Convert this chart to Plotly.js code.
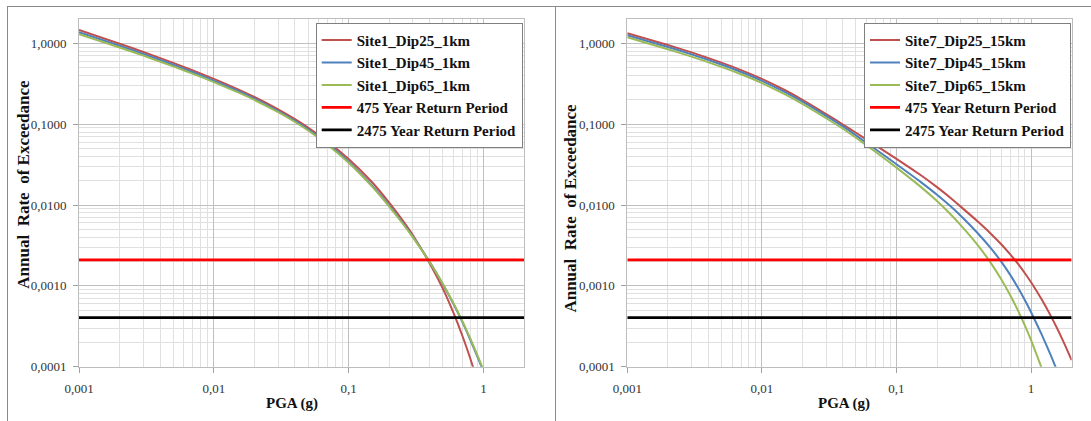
<!DOCTYPE html>
<html>
<head>
<meta charset="utf-8">
<script src="https://cdn.plot.ly/plotly-3.0.1.min.js"></script>
<style>
  html, body { margin: 0; padding: 0; background: #ffffff; }
  #chart { width: 1091px; height: 421px; }
</style>
</head>
<body>
<div id="chart"></div>
<script>
// ---------- data ----------
const pgaSite1 = [0.001, 0.002, 0.003, 0.005, 0.007, 0.01, 0.015, 0.02, 0.03, 0.04, 0.05, 0.07, 0.1, 0.15, 0.2, 0.25, 0.3, 0.4, 0.5, 0.6, 0.7, 0.8, 0.9, 1.0, 1.1];
const site1Dip25 = [1.46, 0.989, 0.782, 0.573, 0.462, 0.3636, 0.2716, 0.217, 0.1526, 0.1153, 0.0908, 0.0607, 0.0371, 0.019, 0.01068, 0.00654, 0.00422, 0.00189, 0.000923, 0.000462, 0.000238, 0.0001255, 0.000068, 0.00004, 0.0000234];
const site1Dip45 = [1.371, 0.933, 0.74, 0.543, 0.4385, 0.346, 0.2588, 0.207, 0.1455, 0.1099, 0.0863, 0.0571, 0.0344, 0.01722, 0.0098, 0.00611, 0.00404, 0.00197, 0.00105, 0.000597, 0.000353, 0.000214, 0.000134, 0.0000875, 0.0000562];
const site1Dip65 = [1.30, 0.888, 0.705, 0.519, 0.4197, 0.3317, 0.2487, 0.1993, 0.1406, 0.1064, 0.0836, 0.0554, 0.0334, 0.01678, 0.00957, 0.00599, 0.00398, 0.00196, 0.001064, 0.00061, 0.000364, 0.000222, 0.00014, 0.0000909, 0.0000592];

const pgaSite7 = [0.001, 0.002, 0.003, 0.005, 0.007, 0.01, 0.015, 0.02, 0.03, 0.04, 0.05, 0.07, 0.1, 0.15, 0.2, 0.25, 0.3, 0.4, 0.5, 0.6, 0.7, 0.8, 0.9, 1.0, 1.2, 1.4, 1.6, 1.8, 2.0];
const site7Dip25 = [1.33, 0.954, 0.7726, 0.5773, 0.4671, 0.3638, 0.261, 0.2001, 0.1335, 0.099, 0.0783, 0.0548, 0.0373, 0.02368, 0.01667, 0.01239, 0.00955, 0.00629, 0.00445, 0.00327, 0.00245, 0.001866, 0.001432, 0.001106, 0.000676, 0.0004255, 0.000274, 0.00018, 0.0001207];
const site7Dip45 = [1.26, 0.903, 0.731, 0.5463, 0.4418, 0.3441, 0.247, 0.1895, 0.1264, 0.0937, 0.0726, 0.049, 0.0319, 0.01947, 0.01339, 0.00976, 0.00736, 0.00451, 0.00295, 0.001995, 0.001368, 0.000947, 0.000665, 0.000472, 0.000249, 0.0001388, 0.0000803, 0.0000478, 0.0000282];
const site7Dip65 = [1.19, 0.846, 0.685, 0.512, 0.4143, 0.3227, 0.2315, 0.1777, 0.1184, 0.0878, 0.0679, 0.0454, 0.02904, 0.01701, 0.0112, 0.0078, 0.00563, 0.00321, 0.00194, 0.00121, 0.000767, 0.000494, 0.000323, 0.000213, 0.0000955, 0.0000457, 0.0000224, 0.0000117, 0.0000063];

const returnPeriodX = [0.001, 2];
const rate475 = 0.0021;
const rate2475 = 0.000404;

const seriesNames1 = ['Site1_Dip25_1km', 'Site1_Dip45_1km', 'Site1_Dip65_1km'];
const seriesNames7 = ['Site7_Dip25_15km', 'Site7_Dip45_15km', 'Site7_Dip65_15km'];
const rpNames = ['475 Year Return Period', '2475 Year Return Period'];

const yTickVals = [0.0001, 0.001, 0.01, 0.1, 1];
const yTickText = ['0,0001', '0,0010', '0,0100', '0,1000', '1,0000'];
const xTickVals = [0.001, 0.01, 0.1, 1];
const xTickText = ['0,001', '0,01', '0,1', '1'];

// ---------- styling ----------
const W = 1091, H = 421;
const FONT = '"Liberation Serif", "Times New Roman", serif';
const curveColors = ['#c0504d', '#4f81bd', '#9bbb59'];
const rpColors = ['#ff0000', '#000000'];

function px(x) { return x / W; }
function py(y) { return 1 - y / H; }

const traces = [];
function addSite(xs, ys, names, xa, ya, leg) {
  ys.forEach((arr, i) => {
    traces.push({
      type: 'scatter', mode: 'lines', x: xs, y: arr, name: '<b>' + names[i] + '</b>',
      xaxis: xa, yaxis: ya, legend: leg,
      line: { color: curveColors[i], width: 2, shape: 'spline', smoothing: 0.5 }
    });
  });
  [rate475, rate2475].forEach((r, i) => {
    traces.push({
      type: 'scatter', mode: 'lines', x: returnPeriodX, y: [r, r], name: '<b>' + rpNames[i] + '</b>',
      xaxis: xa, yaxis: ya, legend: leg,
      line: { color: rpColors[i], width: 2.8 }
    });
  });
}
addSite(pgaSite1, [site1Dip25, site1Dip45, site1Dip65], seriesNames1, 'x', 'y', 'legend');
addSite(pgaSite7, [site7Dip25, site7Dip45, site7Dip65], seriesNames7, 'x2', 'y2', 'legend2');

const yDomain = [py(366.7), py(19)];
function xAxis(domain, anchor) {
  return {
    type: 'log', range: [-3, Math.log10(2)], domain: domain, anchor: anchor,
    tickmode: 'array', tickvals: xTickVals, ticktext: xTickText,
    ticks: 'outside', ticklen: 5, tickcolor: '#a0a0a0', tickwidth: 1,
    ticklabelstandoff: 5,
    showline: true, linecolor: '#bdbdbd', linewidth: 1, mirror: true,
    showgrid: true, gridcolor: '#c0c0c0', gridwidth: 1,
    minor: { showgrid: true, gridcolor: '#e0e0e0', gridwidth: 1, ticks: '', dtick: 'D1' },
    zeroline: false,
    tickfont: { family: FONT, size: 13, color: '#333333' },
    fixedrange: true
  };
}
function yAxis(anchor) {
  return {
    type: 'log', range: [-4, Math.log10(2)], domain: yDomain, anchor: anchor,
    tickmode: 'array', tickvals: yTickVals, ticktext: yTickText,
    ticks: 'outside', ticklen: 5, tickcolor: '#a0a0a0', tickwidth: 1,
    ticklabelstandoff: 4,
    showline: true, linecolor: '#bdbdbd', linewidth: 1, mirror: true,
    showgrid: true, gridcolor: '#c0c0c0', gridwidth: 1,
    minor: { showgrid: true, gridcolor: '#e0e0e0', gridwidth: 1, ticks: '', dtick: 'D1' },
    zeroline: false,
    tickfont: { family: FONT, size: 13, color: '#333333' },
    fixedrange: true
  };
}

const legendBase = {
  xanchor: 'right', yanchor: 'top', y: py(22.7),
  bgcolor: '#ffffff', bordercolor: '#7f7f7f', borderwidth: 1,
  font: { family: FONT, size: 15, color: '#111111' },
  tracegroupgap: 0, itemclick: false, itemdoubleclick: false
};

const titleFont = { family: FONT, size: 15, color: '#111111' };
const yTitleFont = { family: FONT, size: 17, color: '#111111' };
const yTitleText = '<b>Annual\u00A0 Rate\u00A0 of Exceedance</b>';

const layout = {
  width: W, height: H,
  margin: { l: 0, r: 0, t: 0, b: 0, pad: 0 },
  paper_bgcolor: '#ffffff', plot_bgcolor: '#ffffff',
  showlegend: true,
  xaxis: xAxis([px(79), px(524)], 'y'),
  yaxis: yAxis('x'),
  xaxis2: xAxis([px(627.3), px(1071.6)], 'y2'),
  yaxis2: yAxis('x2'),
  legend: Object.assign({}, legendBase, { x: px(522.7) }),
  legend2: Object.assign({}, legendBase, { x: px(1071) }),
  annotations: [
    { text: '<b>PGA (g)</b>', xref: 'paper', yref: 'paper', x: px(291.5), y: py(403), showarrow: false, font: titleFont, xanchor: 'center', yanchor: 'middle' },
    { text: '<b>PGA (g)</b>', xref: 'paper', yref: 'paper', x: px(844), y: py(403), showarrow: false, font: titleFont, xanchor: 'center', yanchor: 'middle' },
    { text: yTitleText, xref: 'paper', yref: 'paper', x: px(22.7), y: py(184), textangle: -90, showarrow: false, font: yTitleFont, xanchor: 'center', yanchor: 'middle' },
    { text: yTitleText, xref: 'paper', yref: 'paper', x: px(569.6), y: py(208), textangle: -90, showarrow: false, font: yTitleFont, xanchor: 'center', yanchor: 'middle' }
  ],
  shapes: [
    { type: 'line', xref: 'paper', yref: 'paper', x0: px(7), x1: 1, y0: py(6.5), y1: py(6.5), line: { color: '#8a8a8a', width: 1 } },
    { type: 'line', xref: 'paper', yref: 'paper', x0: px(7.5), x1: px(7.5), y0: 0, y1: py(6.5), line: { color: '#8a8a8a', width: 1 } },
    { type: 'line', xref: 'paper', yref: 'paper', x0: px(555.5), x1: px(555.5), y0: 0, y1: py(6.5), line: { color: '#8a8a8a', width: 1 } }
  ]
};

Plotly.newPlot('chart', traces, layout, { displayModeBar: false, staticPlot: true });
</script>
</body>
</html>
